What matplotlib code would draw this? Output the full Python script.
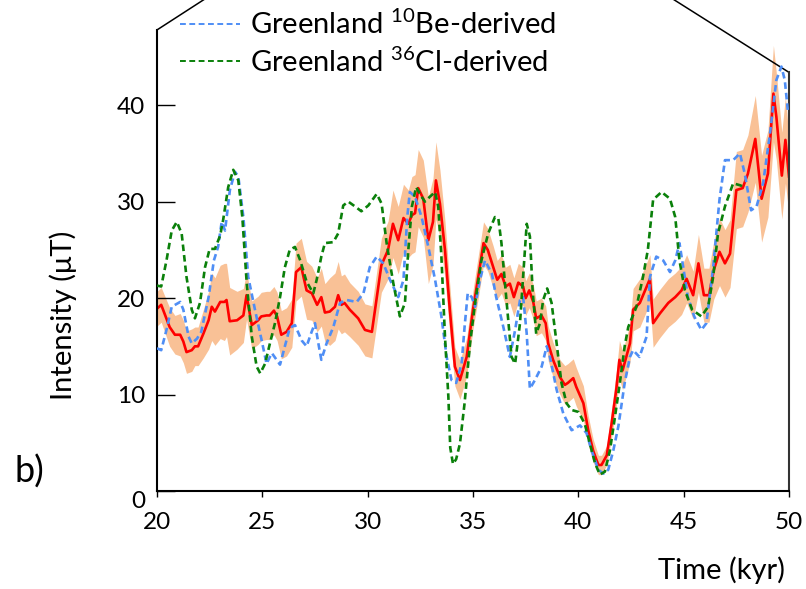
import matplotlib
matplotlib.use('Agg')
from matplotlib import pyplot as plt
from matplotlib.lines import Line2D
import numpy as np

plt.rcParams['font.family'] = ['Lato', 'DejaVu Sans']
plt.rcParams['mathtext.fontset'] = 'custom'
plt.rcParams['mathtext.rm'] = 'Lato'

# red reconstruction: time (kyr), intensity (uT), band half-width
red_t = [20.0, 20.2, 20.6, 20.85, 21.1, 21.25, 21.4, 21.65, 21.8, 21.95,
         22.2, 22.45, 22.6, 22.75, 23.0, 23.2, 23.3, 23.45, 23.8, 24.1,
         24.25, 24.5, 24.8, 24.95, 25.2, 25.35, 25.55, 25.7, 25.9, 26.15,
         26.4, 26.6, 26.85, 27.1, 27.35, 27.6, 27.8, 27.97, 28.2, 28.45,
         28.6, 28.75, 28.9, 29.15, 29.55, 29.87, 30.2, 30.65, 30.97, 31.2,
         31.45, 31.7, 31.93, 32.1, 32.25, 32.4, 32.64, 32.88, 33.1, 33.24,
         33.43, 33.67, 33.9, 34.14, 34.38, 34.7, 35.0, 35.25, 35.5, 35.7,
         35.96, 36.15, 36.35, 36.55, 36.75, 36.94, 37.15, 37.38, 37.5, 37.67,
         37.86, 38.0, 38.25, 38.45, 38.57, 38.8, 39.13, 39.36, 39.5, 39.76,
         39.9, 40.24, 40.47, 40.7, 40.95, 41.1, 41.35, 41.58, 41.8, 41.95,
         42.1, 42.45, 42.6, 42.92, 43.4, 43.55, 43.87, 44.27, 44.6, 44.9,
         45.14, 45.45, 45.7, 45.96, 46.2, 46.43, 46.7, 46.96, 47.2, 47.5,
         47.8, 48.05, 48.4, 48.7, 49.0, 49.26, 49.4, 49.66, 49.83, 50.0]
red_v = [18.9, 19.3, 17.0, 16.2, 16.2, 15.5, 14.4, 14.6, 15.0, 15.0,
         16.3, 17.7, 19.1, 18.6, 19.6, 19.6, 19.8, 17.6, 17.7, 18.2,
         20.3, 17.2, 17.7, 18.1, 18.2, 18.2, 18.7, 18.1, 16.2, 16.5,
         17.4, 22.7, 23.2, 20.8, 20.5, 19.3, 20.1, 18.5, 18.6, 19.1,
         20.3, 19.3, 19.5, 18.8, 17.9, 16.7, 16.5, 23.4, 25.0, 27.7,
         26.0, 28.3, 27.7, 28.6, 28.8, 31.4, 30.3, 26.0, 27.9, 32.2,
         29.8, 25.0, 18.8, 12.9, 11.5, 13.9, 18.8, 22.2, 25.7, 25.0,
         23.2, 21.9, 22.5, 21.2, 21.5, 20.1, 21.6, 21.2, 20.0, 20.8,
         19.6, 17.9, 18.2, 17.4, 15.3, 13.6, 11.8, 11.0, 11.2, 11.7,
         10.8, 9.1, 6.3, 4.2, 2.7, 2.7, 3.7, 7.0, 10.5, 13.6,
         12.5, 15.3, 18.8, 19.5, 22.0, 17.4, 18.4, 19.5, 20.1, 20.8,
         22.0, 20.3, 23.6, 20.3, 20.3, 22.9, 24.8, 23.6, 24.6, 31.2,
         31.4, 32.9, 36.5, 30.3, 32.9, 41.2, 38.8, 32.7, 36.4, 32.6]
red_err = [1.8, 1.8, 2.0, 2.0, 2.2, 2.2, 2.2, 2.2, 2.0, 2.0,
           2.5, 3.0, 3.5, 3.5, 3.8, 4.0, 3.8, 3.5, 3.0, 2.8,
           2.5, 2.5, 2.5, 2.5, 2.5, 2.5, 2.5, 2.5, 2.5, 2.5,
           2.5, 3.0, 3.0, 3.0, 2.8, 2.8, 3.0, 3.0, 3.5, 3.5,
           3.5, 3.0, 3.0, 2.8, 2.8, 2.7, 2.7, 2.8, 3.0, 3.5,
           3.5, 3.5, 3.5, 4.0, 4.0, 4.0, 4.0, 4.5, 4.5, 4.0,
           3.5, 3.0, 2.5, 2.0, 2.0, 2.0, 2.0, 2.2, 2.2, 2.2,
           2.2, 2.0, 2.0, 2.0, 2.0, 2.0, 2.0, 2.0, 1.8, 1.8,
           1.8, 1.8, 1.8, 1.8, 1.8, 1.8, 1.8, 2.0, 2.0, 2.0,
           2.0, 1.8, 1.5, 1.2, 1.0, 1.0, 1.0, 1.5, 1.8, 2.0,
           2.0, 2.0, 2.2, 2.5, 2.5, 2.5, 2.5, 2.5, 2.5, 2.5,
           2.5, 2.5, 3.0, 2.8, 2.8, 3.0, 3.5, 3.5, 3.5, 4.0,
           4.0, 4.0, 4.5, 4.5, 4.5, 5.0, 4.5, 4.5, 4.5, 4.0]

# Greenland 10Be-derived
be_t = [20.0, 20.2, 20.45, 20.7, 21.1, 21.25, 21.5, 21.65, 21.9, 22.1,
        22.45, 22.7, 22.9, 23.07, 23.23, 23.46, 23.7, 23.86, 24.1, 24.33,
        24.65, 24.97, 25.2, 25.45, 25.84, 26.07, 26.3, 26.55, 26.87, 27.1,
        27.34, 27.5, 27.66, 27.8, 28.05, 28.37, 28.69, 29.0, 29.48, 29.8,
        30.1, 30.43, 30.74, 31.06, 31.45, 31.7, 31.88, 32.0, 32.25, 32.56,
        32.88, 33.2, 33.5, 33.75, 33.98, 34.2, 34.46, 34.6, 34.75, 34.94,
        35.1, 35.33, 35.57, 35.9, 36.1, 36.44, 36.75, 37.0, 37.23, 37.38,
        37.55, 37.7, 37.94, 38.26, 38.5, 38.65, 38.97, 39.29, 39.68, 40.08,
        40.39, 40.63, 40.95, 41.19, 41.42, 41.66, 41.9, 42.2, 42.45, 42.6,
        42.9, 43.24, 43.4, 43.7, 44.03, 44.35, 44.6, 44.8, 44.98, 45.2,
        45.5, 45.84, 46.08, 46.4, 46.7, 46.96, 47.35, 47.67, 47.9, 48.2,
        48.46, 48.77, 49.1, 49.4, 49.64, 49.8, 49.96]
be_v = [14.8, 14.6, 16.7, 19.1, 19.6, 18.8, 16.0, 15.3, 15.8, 16.5,
        20.1, 23.9, 25.3, 27.9, 27.0, 31.2, 33.1, 32.6, 28.4, 22.2,
        18.8, 15.6, 13.2, 14.3, 13.1, 15.0, 16.9, 17.2, 15.6, 15.0,
        16.5, 17.4, 15.3, 13.6, 15.3, 17.0, 19.5, 19.8, 19.6, 20.5,
        23.2, 24.3, 23.6, 21.9, 20.1, 21.9, 28.4, 31.0, 30.5, 28.4,
        25.3, 21.9, 18.1, 13.9, 11.5, 11.2, 13.2, 17.0, 20.5, 20.1,
        19.1, 21.9, 23.9, 22.5, 20.1, 17.0, 13.9, 16.7, 19.8, 20.1,
        16.3, 10.6, 11.5, 12.9, 15.0, 13.9, 10.5, 8.0, 6.3, 6.8,
        6.0, 4.2, 2.2, 1.8, 2.2, 4.2, 6.7, 11.2, 13.9, 14.6,
        13.9, 16.0, 22.2, 24.3, 23.9, 22.7, 23.9, 25.7, 23.2, 20.1,
        18.1, 16.7, 17.4, 23.2, 30.2, 34.3, 34.3, 35.0, 32.9, 29.1,
        29.5, 31.9, 37.1, 42.6, 44.0, 42.6, 39.1]

# Greenland 36Cl-derived
cl_t = [20.0, 20.2, 20.45, 20.7, 20.94, 21.17, 21.4, 21.65, 21.8, 22.04,
        22.28, 22.5, 22.75, 23.0, 23.14, 23.38, 23.62, 23.86, 24.05, 24.26,
        24.5, 24.73, 24.9, 25.13, 25.36, 25.6, 25.84, 26.07, 26.3, 26.55,
        26.8, 27.1, 27.34, 27.42, 27.58, 27.8, 27.97, 28.37, 28.6, 28.84,
        29.08, 29.4, 29.7, 30.03, 30.43, 30.66, 30.9, 31.22, 31.53, 31.77,
        31.93, 32.1, 32.3, 32.56, 32.72, 32.95, 33.2, 33.35, 33.5, 33.67,
        33.83, 33.92, 34.05, 34.2, 34.38, 34.6, 34.86, 35.1, 35.4, 35.72,
        36.04, 36.2, 36.35, 36.6, 36.83, 37.0, 37.23, 37.39, 37.55, 37.7,
        37.83, 38.0, 38.18, 38.33, 38.52, 38.73, 38.97, 39.2, 39.44, 39.68,
        40.0, 40.3, 40.55, 40.79, 41.02, 41.26, 41.5, 41.74, 41.97, 42.2,
        42.37, 42.76, 43.07, 43.3, 43.55, 43.95, 44.35, 44.6, 44.8, 45.06,
        45.4, 45.84, 46.16, 46.4, 46.63, 46.96, 47.35, 47.67, 47.9]
cl_v = [21.3, 21.2, 23.9, 27.0, 27.9, 26.7, 22.2, 18.8, 17.9, 19.5,
        23.2, 25.1, 25.1, 26.5, 28.1, 31.5, 33.3, 32.2, 28.4, 21.5,
        16.0, 12.9, 12.2, 13.2, 15.3, 17.4, 20.1, 23.2, 25.0, 25.3,
        23.9, 21.7, 20.8, 20.5, 21.9, 24.3, 25.7, 25.8, 26.7, 29.6,
        30.0, 29.5, 29.0, 29.6, 30.8, 29.8, 25.7, 21.5, 18.1, 19.5,
        25.0, 29.5, 31.5, 30.5, 30.0, 30.5, 31.0, 29.5, 24.3, 16.0,
        9.8, 4.5, 2.8, 3.3, 4.9, 9.1, 15.3, 19.5, 23.9, 26.7,
        28.4, 28.3, 25.7, 19.5, 13.9, 13.2, 17.4, 22.6, 27.7, 26.4,
        20.8, 16.3, 17.4, 19.8, 21.0, 19.5, 15.3, 11.2, 9.1, 8.4,
        8.2, 7.0, 4.9, 2.9, 1.7, 2.0, 4.2, 7.7, 11.2, 15.0,
        17.0, 19.1, 22.2, 25.0, 30.2, 31.0, 30.3, 28.4, 23.9, 20.8,
        18.8, 18.1, 19.1, 22.2, 26.7, 29.5, 31.9, 31.7, 31.5]

x_ticks = [20, 25, 30, 35, 40, 45, 50]
y_ticks = [0, 10, 20, 30, 40]

fig = plt.figure(figsize=[8.06, 5.89], dpi=100)
ax = fig.add_axes([157 / 806, 98 / 589, 632 / 806, 463 / 589])

red_t = np.array(red_t)
red_v = np.array(red_v)
red_err = np.array(red_err)
ax.fill_between(red_t, red_v - red_err, red_v + red_err, color='#f9c196', lw=0, zorder=1)
ax.plot(red_t, red_v, color='#ff0000', lw=1.9, zorder=2)
ax.plot(be_t, be_v, color='#4f8ef5', lw=1.9, dashes=(2.5, 1.5), zorder=3)
ax.plot(cl_t, cl_v, color='#0a800a', lw=1.9, dashes=(2.5, 1.5), zorder=4)

ax.set_xlim(20, 50)
ax.set_ylim(0, 48)
ax.set_xticks(x_ticks)
ax.set_yticks(y_ticks)
ax.tick_params(axis='x', direction='out', length=4.5, width=1, labelsize=17.5, pad=10.5)
ax.tick_params(axis='y', direction='in', length=13, width=1, labelsize=17.5, pad=8.5)
ax.get_yticklabels()[0].set_verticalalignment('top')

ax.spines['top'].set_visible(False)
for s in ['left', 'bottom', 'right']:
    ax.spines[s].set_linewidth(1.5)
ax.spines['left'].set_bounds(0, 47.8)
ax.spines['right'].set_bounds(0, 43.4)
ax.spines['right'].set_color('#333333')

# slanted edges of the cropped panel frame
ax.plot([20, 22.55], [47.8, 51.4], color='black', lw=1.1, clip_on=False)
ax.plot([44.2, 50], [51.4, 43.4], color='black', lw=1.1, clip_on=False)

handles = [Line2D([], [], color='#4f8ef5', lw=1.4, dashes=(3, 1.8)),
           Line2D([], [], color='#0a800a', lw=1.4, dashes=(3, 1.8))]
labels = ['Greenland $^{\\mathrm{10}}$Be-derived', 'Greenland $^{\\mathrm{36}}$Cl-derived']
fig.legend(handles, labels, loc='upper left', bbox_to_anchor=(180 / 806, 1 - 9 / 589),
           frameon=False, fontsize=21, handlelength=2.05, handletextpad=0.34,
           labelspacing=0.27, borderpad=0, borderaxespad=0)

fig.text(63 / 806, 1 - 315 / 589, 'Intensity (μT)', rotation=90, ha='center', va='center', fontsize=21)
fig.text(722 / 806, 1 - 570 / 589, 'Time (kyr)', ha='center', va='center', fontsize=21)
fig.text(29 / 806, 1 - 472 / 589, 'b)', ha='center', va='center', fontsize=26)

plt.savefig('out.png', dpi=100)
